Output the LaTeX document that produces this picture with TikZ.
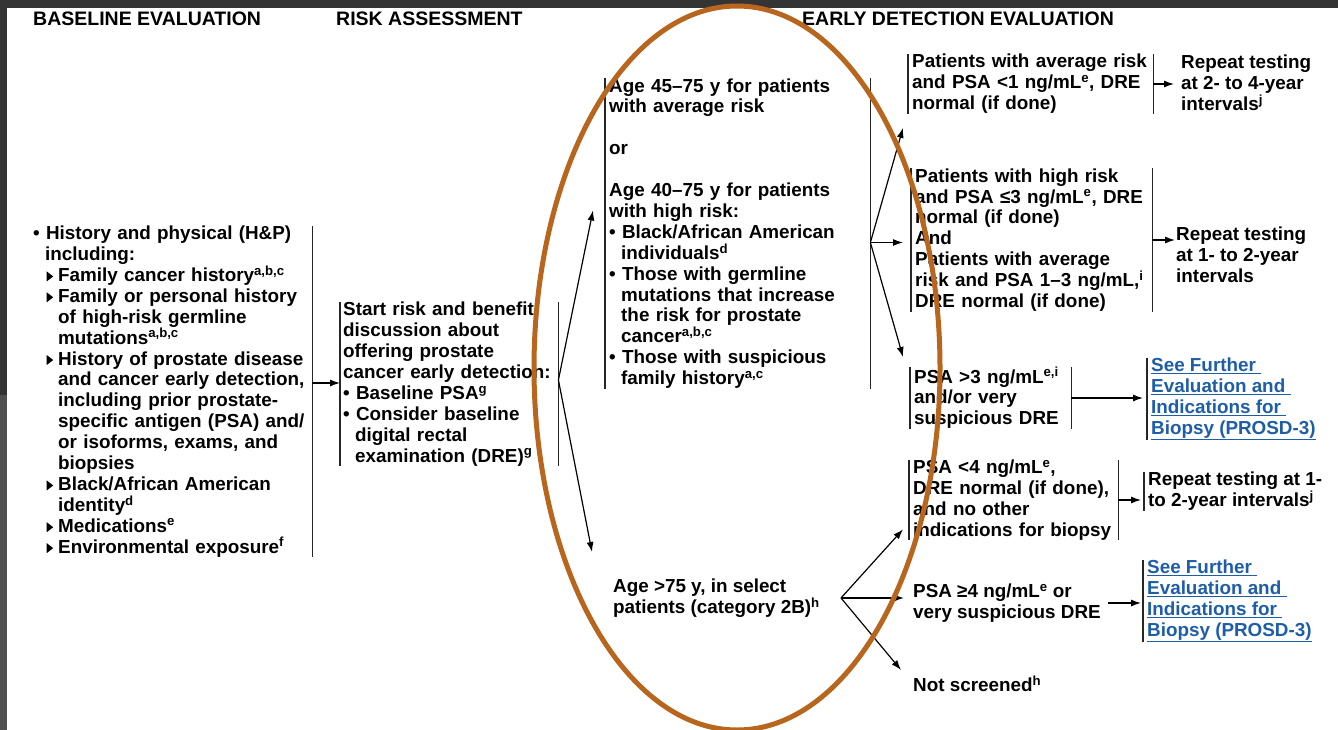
\documentclass[tikz,border=0pt]{standalone}
\usepackage{fontspec}
\setmainfont{Liberation Sans}
\usepackage{tikz}
\usetikzlibrary{arrows.meta}
\definecolor{ringbrown}{RGB}{184,101,30}
\definecolor{linkblue}{RGB}{30,94,168}
\definecolor{framedark}{RGB}{52,52,52}
\definecolor{framemid}{RGB}{80,80,80}
\newcommand{\tri}{\tikz[baseline=0pt]\fill (0pt,0pt) -- (0pt,10pt) -- (6.5pt,5pt) -- cycle;}
\newcommand{\subpt}{\hspace*{13.5pt}\tri\hspace*{5pt}}
\newcommand{\subin}{\hspace*{25pt}}
\newcommand{\lnk}[1]{\underline{#1}}

\begin{document}
\begin{tikzpicture}[
  x=1pt, y=-1pt,
  font=\fontsize{18.85}{20.9}\selectfont\bfseries,
  box/.style={anchor=west, align=left, inner xsep=4pt, inner ysep=0pt},
  txt/.style={anchor=west, align=left, inner sep=0pt},
  head/.style={anchor=west, inner sep=0pt,
               font=\fontsize{19.5}{21}\selectfont\bfseries},
  bar/.style={line width=1.5pt, black!85},
  arrow/.style={-{Latex[length=10pt, width=7pt]}, line width=1.2pt},
  link/.style={text=linkblue}
]
\useasboundingbox (0,0) rectangle (1338,730);
\fill[white] (0,0) rectangle (1338,730);
\fill[framedark] (0,0) rectangle (1338,8);
\fill[framedark] (0,0) rectangle (7,395);
\fill[framemid] (0,395) rectangle (7,730);

\node[head] (hbase) at (33,19) {BASELINE EVALUATION};
\node[head] (hrisk) at (336,19) {RISK ASSESSMENT};
\node[head] (hearly) at (802,19) {EARLY DETECTION EVALUATION};

\node[box, text width=275pt, minimum height=327pt] (hp) at (29,391.5)
  {\textbullet\ History and physical (H\&P)\\
   \hspace*{12pt}including:\\
   \subpt Family cancer history\textsuperscript{a,b,c}\\
   \subpt Family or personal history\\
   \subin of high-risk germline\\
   \subin mutations\textsuperscript{a,b,c}\\
   \subpt History of prostate disease\\
   \subin and cancer early detection,\\
   \subin including prior prostate-\\
   \subin specific antigen (PSA) and/\\
   \subin or isoforms, exams, and\\
   \subin biopsies\\
   \subpt Black/African American\\
   \subin identity\textsuperscript{d}\\
   \subpt Medications\textsuperscript{e}\\
   \subpt Environmental exposure\textsuperscript{f}};
\node[box, inner xsep=3pt, text width=212pt, minimum height=162pt] (mid) at (340,384)
  {Start risk and benefit\\
   discussion about\\
   offering prostate\\
   cancer early detection:\\
   \textbullet\ Baseline PSA\textsuperscript{g}\\
   \textbullet\ Consider baseline\\
   \hspace*{12pt}digital rectal\\
   \hspace*{12pt}examination (DRE)\textsuperscript{g}};
\node[box, text width=257pt, minimum height=311pt] (age) at (605,233.5)
  {Age 45–75 y for patients\\
   with average risk\\
   \mbox{}\\
   or\\
   \mbox{}\\
   Age 40–75 y for patients\\
   with high risk:\\
   \textbullet\ Black/African American\\
   \hspace*{12pt}individuals\textsuperscript{d}\\
   \textbullet\ Those with germline\\
   \hspace*{12pt}mutations that increase\\
   \hspace*{12pt}the risk for prostate\\
   \hspace*{12pt}cancer\textsuperscript{a,b,c}\\
   \textbullet\ Those with suspicious\\
   \hspace*{12pt}family history\textsuperscript{a,c}};
\node[txt] (old) at (613,598)
  {Age >75 y, in select\\patients (category 2B)\textsuperscript{h}};

\node[box, text width=237pt, minimum height=59pt] (avg) at (908,84)
  {Patients with average risk\\and PSA <1 ng/mL\textsuperscript{e}, DRE\\normal (if done)};
\node[box, text width=233pt, minimum height=142pt] (high) at (911,240)
  {Patients with high risk\\and PSA ≤3 ng/mL\textsuperscript{e}, DRE\\normal (if done)\\And\\
   Patients with average\\risk and PSA 1–3 ng/mL,\textsuperscript{i}\\DRE normal (if done)};
\node[box, text width=153pt, minimum height=58pt] (psa3) at (910,398)
  {PSA >3 ng/mL\textsuperscript{e,i}\\and/or very\\suspicious DRE};
\node[box, text width=201pt, minimum height=79pt] (psa4) at (909,500)
  {PSA <4 ng/mL\textsuperscript{e},\\DRE normal (if done),\\and no other\\indications for biopsy};
\node[txt] (psa4b) at (913,603)
  {PSA ≥4 ng/mL\textsuperscript{e} or\\very suspicious DRE};
\node[txt] (notscr) at (913,684) {Not screened\textsuperscript{h}};

\node[txt] (rep1) at (1181,83) {Repeat testing\\at 2- to 4-year\\intervals\textsuperscript{j}};
\node[txt] (rep2) at (1176,255) {Repeat testing\\at 1- to 2-year\\intervals};
\node[box, link, minimum height=80pt] (link1) at (1147,399)
  {\lnk{See Further~}\\\lnk{Evaluation and~}\\\lnk{Indications for~}\\\lnk{Biopsy (PROSD-3)}};
\node[box, minimum height=37pt] (rep3) at (1144,491.5)
  {Repeat testing at 1-\\to 2-year intervals\textsuperscript{j}};
\node[box, link, minimum height=80pt] (link2) at (1143,601)
  {\lnk{See Further~}\\\lnk{Evaluation and~}\\\lnk{Indications for~}\\\lnk{Biopsy (PROSD-3)}};

\draw[bar] (hp.north east) -- (hp.south east);
\draw[bar] (mid.north west) -- (mid.south west) (mid.north east) -- (mid.south east);
\draw[bar] (age.north west) -- (age.south west) (age.north east) -- (age.south east);
\draw[bar] (avg.north west) -- (avg.south west) (avg.north east) -- (avg.south east);
\draw[bar] (high.north west) -- (high.south west) (high.north east) -- (high.south east);
\draw[bar] (psa3.north west) -- (psa3.south west) (psa3.north east) -- (psa3.south east);
\draw[bar] (psa4.north west) -- (psa4.south west) (psa4.north east) -- (psa4.south east);
\draw[bar] (link1.north west) -- (link1.south west);
\draw[bar] (rep3.north west) -- (rep3.south west);
\draw[bar] (link2.north west) -- (link2.south west);

\draw[arrow] ([yshift=1pt]mid.west -| hp.east) -- ([yshift=1pt]mid.west);
\draw[arrow] ([yshift=4pt]mid.east) -- ([xshift=-12pt,yshift=23pt]age.west);
\draw[arrow] ([yshift=4pt]mid.east) -- ([xshift=-21pt,yshift=46pt]old.west);
\coordinate (agefork) at ([yshift=-9pt]age.east);
\draw[arrow] (agefork) -- ([xshift=-5pt,yshift=-14pt]avg.south west);
\draw[arrow] (agefork) -- ([xshift=-8pt]high.west |- agefork);
\draw[arrow] (agefork) -- ([xshift=-7pt,yshift=10pt]psa3.north west);
\draw[arrow] (avg.east) -- ([xshift=-7pt]rep1.west |- avg.east);
\draw[arrow] (high.east) -- ([xshift=-1pt]rep2.west |- high.east);
\draw[arrow] (psa3.east) -- ([xshift=-4pt]link1.west |- psa3.east);
\draw[arrow] (psa4.east) -- ([xshift=-3pt]rep3.west |- psa4.east);
\coordinate (oldfork) at ([xshift=-72pt,yshift=5pt]psa4b.west);
\draw[arrow] (oldfork) -- ([xshift=-6pt,yshift=11pt]psa4.south west);
\draw[arrow] (oldfork) -- ([xshift=-9pt]psa4b.west |- oldfork);
\draw[arrow] (oldfork) -- ([xshift=-12pt,yshift=14pt]notscr.west);
\draw[arrow] ([xshift=7pt]psa4b.east) -- ([xshift=-2pt]link2.west |- psa4b.east);

\draw[ringbrown, line width=5pt] (737,368) ellipse [x radius=203, y radius=362];
\end{tikzpicture}
\end{document}
